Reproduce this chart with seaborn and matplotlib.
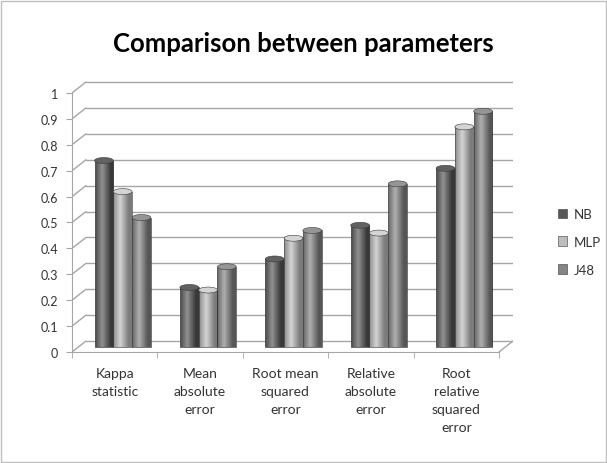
import numpy as np
import pandas as pd
import matplotlib
matplotlib.use("Agg")
import matplotlib.pyplot as plt
import matplotlib.transforms as mtransforms
from matplotlib.patches import Ellipse
import matplotlib.colors as mcolors
import seaborn as sns

# data
categories = ["Kappa\nstatistic", "Mean\nabsolute\nerror", "Root mean\nsquared\nerror",
              "Relative\nabsolute\nerror", "Root\nrelative\nsquared\nerror"]
nb = [0.72, 0.23, 0.34, 0.47, 0.69]
mlp = [0.60, 0.22, 0.42, 0.44, 0.85]
j48 = [0.50, 0.31, 0.45, 0.63, 0.91]
series = ["NB", "MLP", "J48"]
colors = ["#575757", "#bdbdbd", "#858585"]
y_ticks = [0, 0.1, 0.2, 0.3, 0.4, 0.5, 0.6, 0.7, 0.8, 0.9, 1]
y_tick_labels = ["0", "0.1", "0.2", "0.3", "0.4", "0.5", "0.6", "0.7", "0.8", "0.9", "1"]

df = pd.DataFrame({
    "param": categories * 3,
    "model": ["NB"] * 5 + ["MLP"] * 5 + ["J48"] * 5,
    "value": nb + mlp + j48,
})

sns.set_style("white")
plt.rcParams["font.family"] = ["Lato", "DejaVu Sans"]

fig = plt.figure(figsize=(6.07, 4.64), dpi=100)
ax = fig.add_axes([72 / 607, (464 - 353) / 464, (513 - 72) / 607, 272 / 464])

# 3D-ish depth offset of the back wall (in data units)
dx = 14 / 85.2
dy = 11 / 260
ax.set_xlim(-0.5, 4.5 + dx)
ax.set_ylim(-dy, 1 + 2 / 260)

grid_col = "#a6a6a6"
for v in y_ticks:
    ax.plot([-0.5 + dx, 4.5 + dx], [v, v], color=grid_col, lw=1.0, zorder=0)
    ax.plot([-0.5, -0.5 + dx], [v - dy, v], color=grid_col, lw=1.0, zorder=0)
ax.plot([4.5, 4.5 + dx], [-dy, 0], color=grid_col, lw=1.0, zorder=0)

sns.barplot(data=df, x="param", y="value", hue="model", hue_order=series,
            palette=colors, width=0.66, gap=0, ax=ax, legend=True,
            edgecolor="#3a3a3a", linewidth=0.4, zorder=2)

# push bars to mid depth and give them a cylinder-like shading
shift = mtransforms.ScaledTranslation(8 / 100, -6 / 100, fig.dpi_scale_trans)
grad = np.linspace(0, 1, 64)
shade = np.clip(1 - np.abs(grad - 0.38) * 2.2, 0, 1)[None, :]
cap_h = 6 / 260
bars = [p for p in ax.patches if p.get_height() > 0]
for p in bars:
    p.set_transform(ax.transData + shift)
    x0, w, h = p.get_x(), p.get_width(), p.get_height()
    im = ax.imshow(shade, cmap="gray", aspect="auto", alpha=0.35,
                   extent=(x0, x0 + w, 0, h), zorder=3, vmin=0, vmax=1)
    im.set_transform(ax.transData + shift)
    im.set_clip_path(p)
    base = np.array(mcolors.to_rgb(p.get_facecolor()))
    cap = Ellipse((x0 + w / 2, h), w, cap_h, facecolor=np.clip(base * 1.12, 0, 1),
                  edgecolor="#3a3a3a", lw=0.4, zorder=4)
    cap.set_transform(ax.transData + shift)
    ax.add_patch(cap)
ax.set_xlim(-0.5, 4.5 + dx)
ax.set_ylim(-dy, 1 + 2 / 260)

for s in ["top", "right"]:
    ax.spines[s].set_visible(False)
ax.spines["left"].set_color(grid_col)
ax.spines["bottom"].set_color(grid_col)
ax.spines["left"].set_bounds(-dy, 1 - dy)
ax.spines["bottom"].set_bounds(-0.5, 4.5)

ax.set_yticks([v - dy for v in y_ticks])
ax.set_yticklabels(y_tick_labels)
ax.set_xticks(range(5))
ax.set_xticklabels(categories, va="top", linespacing=1.6)
ax.set_xticks(np.arange(-0.5, 5, 1), minor=True)
ax.tick_params(axis="y", length=4, color=grid_col, labelsize=9, labelcolor="#333333", pad=6, left=True)
ax.tick_params(axis="x", which="major", length=0, labelsize=10, labelcolor="#333333", pad=11)
ax.tick_params(axis="x", which="minor", length=4, color=grid_col, bottom=True)
ax.set_xlabel("")
ax.set_ylabel("")

handles, labels = ax.get_legend_handles_labels()
ax.legend(handles, labels, loc="upper left", bbox_to_anchor=(546 / 607, (464 - 197) / 464),
          bbox_transform=fig.transFigure, frameon=False, fontsize=9.5, handlelength=0.7,
          handleheight=0.7, handletextpad=0.5, labelspacing=1.2, labelcolor="#333333")

fig.text(0.5, (464 - 44) / 464, "Comparison between parameters", ha="center", va="center",
         fontsize=18.5, fontweight="bold", color="black")

fig.patches.append(plt.Rectangle((1.5 / 607, 1.5 / 464), 604 / 607, 461 / 464,
                                 transform=fig.transFigure, fill=False,
                                 edgecolor="#bfbfbf", lw=1.0))

fig.savefig("out.png", dpi=100)
